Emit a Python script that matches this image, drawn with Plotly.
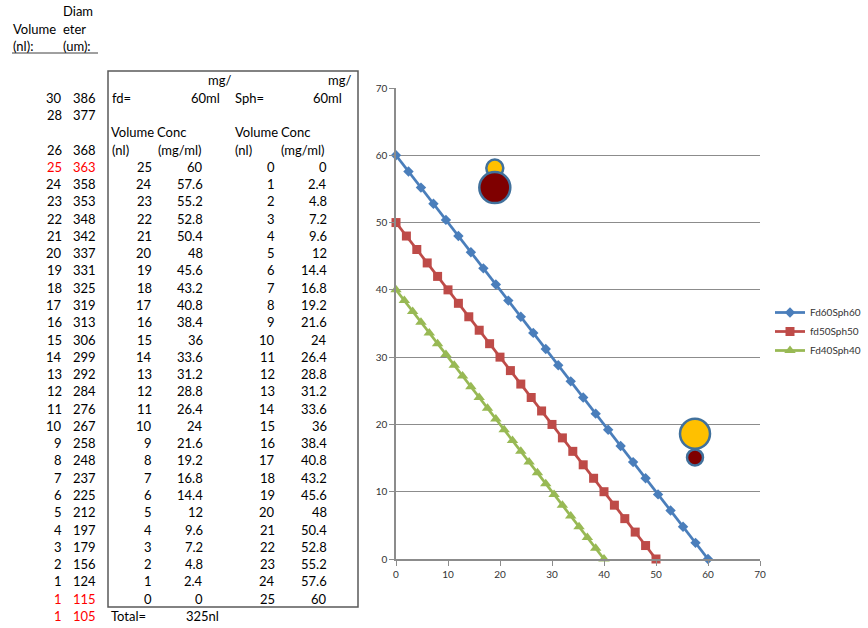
import plotly.graph_objects as go

# ---------------- data ----------------
# Droplet volume / diameter lookup (left columns)
drop_volume_nl = [30, 28, 26, 25, 24, 23, 22, 21, 20, 19, 18, 17, 16, 15, 14,
                  13, 12, 11, 10, 9, 8, 7, 6, 5, 4, 3, 2, 1, 1, 1]
drop_diam_um = [386, 377, 368, 363, 358, 353, 348, 342, 337, 331, 325, 319, 313,
                306, 299, 292, 284, 276, 267, 258, 248, 237, 225, 212, 197, 179,
                156, 124, 115, 105]
highlight_rows = [3, 28, 29]  # rows printed in red

# fd / Sph mixing table
fd_volume_nl = [25, 24, 23, 22, 21, 20, 19, 18, 17, 16, 15, 14, 13, 12, 11, 10,
                9, 8, 7, 6, 5, 4, 3, 2, 1, 0]
fd_conc = [60, 57.6, 55.2, 52.8, 50.4, 48, 45.6, 43.2, 40.8, 38.4, 36, 33.6, 31.2,
           28.8, 26.4, 24, 21.6, 19.2, 16.8, 14.4, 12, 9.6, 7.2, 4.8, 2.4, 0]
sph_volume_nl = [0, 1, 2, 3, 4, 5, 6, 7, 8, 9, 10, 11, 12, 13, 14, 15, 16, 17,
                 18, 19, 20, 21, 22, 23, 24, 25]
sph_conc = [0, 2.4, 4.8, 7.2, 9.6, 12, 14.4, 16.8, 19.2, 21.6, 24, 26.4, 28.8,
            31.2, 33.6, 36, 38.4, 40.8, 43.2, 45.6, 48, 50.4, 52.8, 55.2, 57.6, 60]
total_label = "325nl"

# Chart series (x = Sph conc, y = fd conc)
s50_x = [0, 2, 4, 6, 8, 10, 12, 14, 16, 18, 20, 22, 24, 26, 28, 30, 32, 34, 36,
         38, 40, 42, 44, 46, 48, 50]
s50_y = [50, 48, 46, 44, 42, 40, 38, 36, 34, 32, 30, 28, 26, 24, 22, 20, 18, 16,
         14, 12, 10, 8, 6, 4, 2, 0]
s40_x = [0, 1.6, 3.2, 4.8, 6.4, 8, 9.6, 11.2, 12.8, 14.4, 16, 17.6, 19.2, 20.8,
         22.4, 24, 25.6, 27.2, 28.8, 30.4, 32, 33.6, 35.2, 36.8, 38.4, 40]
s40_y = [40, 38.4, 36.8, 35.2, 33.6, 32, 30.4, 28.8, 27.2, 25.6, 24, 22.4, 20.8,
         19.2, 17.6, 16, 14.4, 12.8, 11.2, 9.6, 8, 6.4, 4.8, 3.2, 1.6, 0]
series_names = ["Fd60Sph60", "fd50Sph50", "Fd40Sph40"]

# Bubble markers
bubble_x = [19, 57.5]
orange_y = [58.1, 18.6]
orange_size = [17, 30]
darkred_y = [55.2, 15.1]
darkred_size = [31, 16]

# ---------------- layout helpers ----------------
W, H = 868, 628
FONT = "Lato, Calibri, Carlito, sans-serif"


def px(x):
    return x / W


def py(y):
    return 1 - y / H


def row_y(r):
    return 11.4 + 17.27 * r


annotations = []


def txt(s, x, y, anchor="left", color="#000000", size=13):
    annotations.append(dict(text=s, x=px(x), y=py(y), xref="paper", yref="paper",
                            xanchor=anchor, yanchor="middle", showarrow=False,
                            font=dict(family=FONT, size=size, color=color)))


# header for droplet columns
txt("Diam", 61, row_y(0))
txt("Volume", 11, row_y(1))
txt("eter", 61, row_y(1))
txt("(nl):", 11, row_y(2))
txt("(um):", 61, row_y(2))

# droplet rows
left_rows = [5, 6] + list(range(8, 36))
for i, r in enumerate(left_rows):
    c = "#FF0000" if i in highlight_rows else "#000000"
    txt(str(drop_volume_nl[i]), 64, row_y(r), "right", c)
    txt(str(drop_diam_um[i]), 98, row_y(r), "right", c)

# mixing table header
txt("mg/", 233, row_y(4), "right")
txt("fd=", 110, row_y(5))
txt("60ml", 222, row_y(5), "right")
txt("mg/", 353, row_y(4), "right")
txt("Sph=", 233, row_y(5))
txt("60ml", 344, row_y(5), "right")
txt("Volume", 109, row_y(7))
txt("Conc", 155, row_y(7))
txt("(nl)", 110, row_y(8))
txt("(mg/ml)", 156, row_y(8))
txt("Volume", 233, row_y(7))
txt("Conc", 279, row_y(7))
txt("(nl)", 233, row_y(8))
txt("(mg/ml)", 279, row_y(8))


def fmt(v):
    return str(int(v)) if float(v).is_integer() else str(v)


for k in range(len(fd_volume_nl)):
    r = 9 + k
    txt(fmt(fd_volume_nl[k]), 154, row_y(r), "right")
    txt(fmt(fd_conc[k]), 205, row_y(r), "right")
    txt(fmt(sph_volume_nl[k]), 277, row_y(r), "right")
    txt(fmt(sph_conc[k]), 329, row_y(r), "right")

txt("Total=", 109, row_y(35))
txt(total_label, 184, row_y(35))

shapes = [
    dict(type="rect", xref="paper", yref="paper", x0=px(108), x1=px(358),
         y0=py(607), y1=py(71), line=dict(color="#5a5a5a", width=1.5)),
    dict(type="line", xref="paper", yref="paper", x0=px(12), x1=px(98),
         y0=py(53), y1=py(53), line=dict(color="#404040", width=1)),
]

# ---------------- figure ----------------
fig = go.Figure()

line_style = [
    ("#4A7EBB", "diamond", 8),
    ("#BE4B48", "square", 9),
    ("#98B954", "triangle-up", 10),
]
xs = [sph_conc, s50_x, s40_x]
ys = [fd_conc, s50_y, s40_y]
for name, x, y, (col, sym, sz) in zip(series_names, xs, ys, line_style):
    fig.add_trace(go.Scatter(
        x=x, y=y, name=name, mode="lines+markers", cliponaxis=False,
        line=dict(color=col, width=2.75),
        marker=dict(symbol=sym, size=sz, color=col, line=dict(width=0)),
    ))

fig.add_trace(go.Scatter(
    x=bubble_x, y=orange_y, mode="markers", showlegend=False, cliponaxis=False,
    marker=dict(size=orange_size, color="#FFC000", opacity=1,
                line=dict(color="#41719C", width=2.5)),
))
fig.add_trace(go.Scatter(
    x=bubble_x, y=darkred_y, mode="markers", showlegend=False, cliponaxis=False,
    marker=dict(size=darkred_size, color="#7F0000", opacity=1,
                line=dict(color="#41719C", width=2.5)),
))

axis_common = dict(
    range=[0, 70], dtick=10, tick0=0, zeroline=False, showline=True,
    linecolor="#8C8C8C", linewidth=1.5, ticks="outside", ticklen=5,
    tickcolor="#8C8C8C", tickwidth=1, automargin=False,
    tickfont=dict(family=FONT, size=10, color="#333333"),
    fixedrange=True,
)

fig.update_layout(
    width=W, height=H,
    margin=dict(l=0, r=0, t=0, b=0, pad=0, autoexpand=False),
    paper_bgcolor="white", plot_bgcolor="white",
    xaxis=dict(domain=[px(396), px(760)], showgrid=False, **axis_common),
    yaxis=dict(domain=[py(559), py(88)], showgrid=True, gridcolor="#8C8C8C",
               gridwidth=1, **axis_common),
    legend=dict(x=px(770), y=py(298), xanchor="left", yanchor="top",
                font=dict(family=FONT, size=10, color="#333333"),
                bgcolor="rgba(0,0,0,0)", itemwidth=30),
    annotations=annotations,
    shapes=shapes,
    showlegend=True,
)

fig.write_html(
    "out.html",
    config={"displayModeBar": False},
    post_script="document.body.style.margin='0';"
                "document.body.style.overflow='hidden';",
)
